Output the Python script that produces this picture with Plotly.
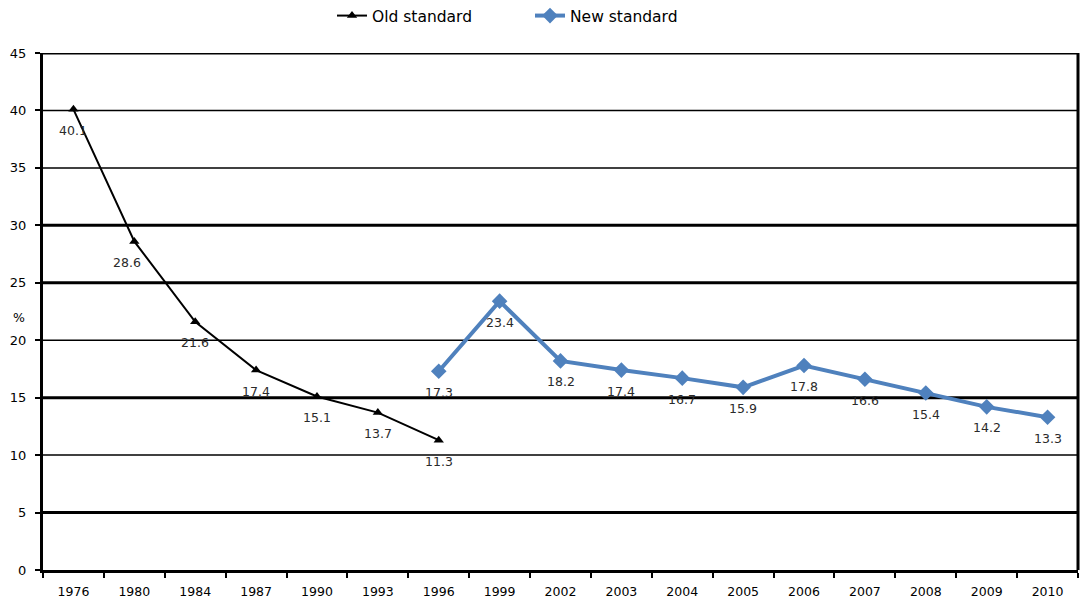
import plotly.graph_objects as go

years = ["1976", "1980", "1984", "1987", "1990", "1993", "1996", "1999", "2002",
         "2003", "2004", "2005", "2006", "2007", "2008", "2009", "2010"]

old_years = ["1976", "1980", "1984", "1987", "1990", "1993", "1996"]
old_values = [40.1, 28.6, 21.6, 17.4, 15.1, 13.7, 11.3]

new_years = ["1996", "1999", "2002", "2003", "2004", "2005", "2006", "2007",
             "2008", "2009", "2010"]
new_values = [17.3, 23.4, 18.2, 17.4, 16.7, 15.9, 17.8, 16.6, 15.4, 14.2, 13.3]

y_ticks = [0, 5, 10, 15, 20, 25, 30, 35, 40, 45]
heavy_grid = [5, 15, 25, 30, 45]
light_grid = [10, 20, 35, 40]

FONT = "DejaVu Sans, Arial, sans-serif"
BLUE = "#4F81BD"
LABEL_COLOR = "#2a2a2a"

fig = go.Figure()

fig.add_trace(go.Scatter(
    x=old_years, y=old_values, name="Old standard",
    mode="lines+markers",
    line=dict(color="black", width=2),
    marker=dict(symbol="triangle-up", size=9, color="black"),
))

fig.add_trace(go.Scatter(
    x=new_years, y=new_values, name="New standard",
    mode="lines+markers",
    line=dict(color=BLUE, width=4),
    marker=dict(symbol="diamond", size=12, color=BLUE),
))

# value labels sit a little below each point (category index positions)
annotations = []
for series_x, series_y, nudge in ((old_years, old_values, {"1980": -7}),
                                  (new_years, new_values, {})):
    for xv, yv in zip(series_x, series_y):
        annotations.append(dict(
            x=years.index(xv), y=yv, xref="x", yref="y", text=f"{yv:.1f}",
            showarrow=False, yshift=-21, xshift=nudge.get(xv, 0),
            font=dict(family=FONT, size=12.5, color=LABEL_COLOR)))

annotations.append(dict(text="%", xref="paper", yref="paper", x=-0.031, y=0.489,
                        showarrow=False,
                        font=dict(family=FONT, size=12.5, color="black")))

shapes = []
for g in heavy_grid:
    shapes.append(dict(type="line", xref="paper", yref="y", x0=0, x1=1, y0=g, y1=g,
                       line=dict(color="black", width=3), layer="below"))
for g in light_grid:
    shapes.append(dict(type="line", xref="paper", yref="y", x0=0, x1=1, y0=g, y1=g,
                       line=dict(color="black", width=1.5), layer="below"))
# right-hand frame edge
shapes.append(dict(type="line", xref="paper", yref="paper", x0=1, x1=1, y0=0, y1=1,
                   line=dict(color="black", width=3)))

fig.update_layout(
    width=1080, height=601,
    margin=dict(l=43, r=2, t=53, b=31, autoexpand=False),
    paper_bgcolor="white", plot_bgcolor="white",
    font=dict(family=FONT, size=12.5, color="black"),
    showlegend=True,
    legend=dict(orientation="h", xref="container", yref="container",
                x=332 / 1080, xanchor="left", y=1 - 16 / 601, yanchor="middle",
                font=dict(family=FONT, size=15.5, color="black"),
                itemwidth=30, entrywidth=153, bgcolor="rgba(0,0,0,0)"),
    shapes=shapes,
    annotations=annotations,
    xaxis=dict(type="category", categoryorder="array", categoryarray=years,
               range=[-0.5, len(years) - 0.5],
               showgrid=False, showline=True, linecolor="black", linewidth=3,
               ticks="outside", tickson="boundaries", ticklen=5, tickwidth=2,
               tickcolor="black", ticklabelstandoff=8,
               tickfont=dict(family=FONT, size=12.5, color="black"),
               zeroline=False),
    yaxis=dict(range=[0, 45], tickvals=y_ticks, showgrid=False,
               showline=True, linecolor="black", linewidth=3,
               ticks="outside", ticklen=5, tickwidth=2, tickcolor="black",
               ticklabelstandoff=6,
               tickfont=dict(family=FONT, size=13, color="black"),
               zeroline=False),
)

fig.write_html("out.html")
